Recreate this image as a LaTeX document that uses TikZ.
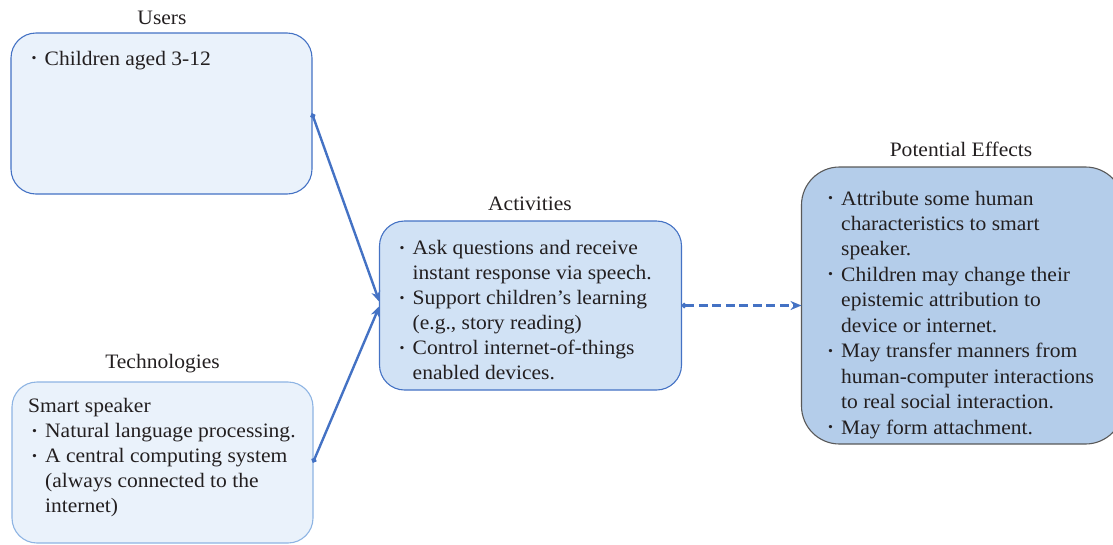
\documentclass[tikz,border=0pt]{standalone}
\usepackage{fontspec}
\setmainfont[FakeStretch=1.05]{Liberation Serif}
\usetikzlibrary{arrows.meta}
\definecolor{lightfill}{HTML}{EAF2FB}
\definecolor{midfill}{HTML}{D1E2F5}
\definecolor{darkfill}{HTML}{B4CDEA}
\definecolor{blueline}{HTML}{4472C4}
\definecolor{paleline}{HTML}{8EB4E3}
\definecolor{greyline}{HTML}{595959}
\definecolor{ink}{HTML}{231F20}
\newcommand\bul{\makebox[13.5pt][l]{\hspace{0.5pt}\raisebox{0.12em}{\scalebox{0.65}{\textbullet}}}}
\newcommand\ind{\hspace*{13.5pt}}
\newcommand\blist[1]{\begin{tabular}[t]{@{}l@{}}#1\end{tabular}}
\tikzset{
  box/.style={draw, line width=1.1pt, rounded corners=25pt, inner sep=0pt, outer sep=0pt},
  lbl/.style={inner sep=0pt, text=ink, font=\fontsize{20.5}{24}\selectfont, anchor=base},
  txt/.style={inner sep=0pt, text=ink, anchor=base west},
  conn/.style={draw=blueline, line width=2.4pt},
  ends/.style={{Circle[length=5pt]}-{Stealth[length=11pt,width=9pt]}},
}
\begin{document}
\begin{tikzpicture}[x=1pt,y=-1pt]
\useasboundingbox (0,0) rectangle (1113,544);
\clip (0,0) rectangle (1113,544);

% boxes
\node[box, draw=blueline, fill=lightfill, minimum width=301pt, minimum height=161pt] (users) at (161.5,113.5) {};
\node[box, draw=paleline, fill=lightfill, minimum width=301pt, minimum height=161pt] (tech) at (162.5,462.5) {};
\node[box, draw=blueline, fill=midfill, minimum width=302pt, minimum height=169pt] (act) at (530.5,305.5) {};
\node[box, draw=greyline, fill=darkfill, rounded corners=38pt, minimum width=322pt, minimum height=277pt] (pe) at (962.5,305.5) {};

% titles
\node[lbl] (usersl) at (162,24) {Users};
\node[lbl] (techl) at (162.5,368) {Technologies};
\node[lbl] (actl) at (530,210.5) {Activities};
\node[lbl] (pel) at (961,156.5) {Potential Effects};

% contents
\node[txt, font=\fontsize{20.5}{25}\selectfont] (userst) at (31,65) {\blist{\bul Children aged 3-12}};
\node[txt, font=\fontsize{20.5}{25}\selectfont] (techt) at (28,412.5) {\blist{%
Smart speaker\\
\hspace*{3.5pt}\bul Natural language processing.\\
\hspace*{3.5pt}\bul A central computing system\\
\hspace*{3.5pt}\ind (always connected to the\\
\hspace*{3.5pt}\ind internet)}};
\node[txt, font=\fontsize{20.5}{25}\selectfont] (actt) at (399,254.5) {\blist{%
\bul Ask questions and receive\\
\ind instant response via speech.\\
\bul Support children’s learning\\
\ind (e.g., story reading)\\
\bul Control internet-of-things\\
\ind enabled devices.}};
\node[txt, font=\fontsize{20.5}{25.45}\selectfont] (pet) at (827.5,205) {\blist{%
\bul Attribute some human\\
\ind characteristics to smart\\
\ind speaker.\\
\bul Children may change their\\
\ind epistemic attribution to\\
\ind device or internet.\\
\bul May transfer manners from\\
\ind human-computer interactions\\
\ind to real social interaction.\\
\bul May form attachment.}};

% connectors
\draw[conn, ends] (users.east) -- ([yshift=3.5pt]act.west);
\draw[conn, ends] (tech.east) -- ([yshift=-0.5pt]act.west);
\draw[conn, ends, dash pattern=on 9pt off 4.5pt] (act.east) -- (pe.west);
\end{tikzpicture}
\end{document}
